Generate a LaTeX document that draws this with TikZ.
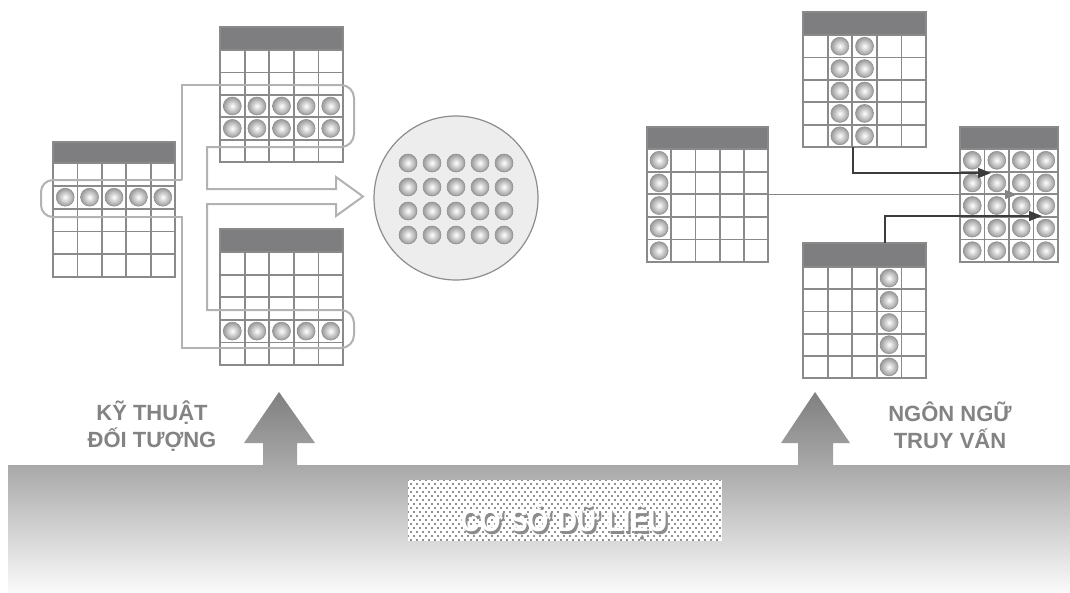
\documentclass[tikz,border=0pt]{standalone}
\usepackage{fontspec}
\setmainfont{Liberation Sans}
\usetikzlibrary{arrows.meta,patterns}
\pgfdeclarepatternformonly{qdots}{\pgfqpoint{-1pt}{-1pt}}{\pgfqpoint{7pt}{9pt}}{\pgfqpoint{6pt}{8pt}}{%
  \pgfpathcircle{\pgfqpoint{0pt}{0pt}}{0.85pt}%
  \pgfpathcircle{\pgfqpoint{3pt}{4pt}}{0.85pt}%
  \pgfusepath{fill}}
\definecolor{gridc}{HTML}{8A8A8A}
\definecolor{hdrc}{HTML}{7E7E80}
\definecolor{loopc}{HTML}{B2B2B2}
\definecolor{darkc}{HTML}{3C3C3C}
\definecolor{midc}{HTML}{858585}
\definecolor{labc}{HTML}{838383}
\tikzset{
  gridln/.style={draw=gridc, line width=1.8pt},
  hdrfill/.style={fill=hdrc},
  tabnode/.style={inner sep=0pt, outer sep=0pt, anchor=north west},
  ballst/.style={inner color=white, outer color=black!40, draw=black!45, line width=0.5pt},
  loopln/.style={draw=loopc, line width=2pt},
  darkarr/.style={draw=darkc, line width=1.6pt, -{Triangle[length=13pt,width=10pt]}},
  midarr/.style={draw=midc, line width=1.3pt, -{Triangle[length=12pt,width=9pt]}},
  labtxt/.style={font=\bfseries\fontsize{22}{27}\selectfont, align=center, text=labc},
}
\newcommand\dbshadow[1]{\rlap{\kern2.5pt\raisebox{-2.5pt}{\textcolor{black!45}{#1}}}\textcolor{white}{#1}}
% #1 name, #2 x, #3 y, #4 ncols, #5 nrows, #6 col width, #7 row height, #8 header height
\newcommand\dbtab[8]{%
  \node[tabnode, minimum width={#4*#6*1pt}, minimum height={(#8+#5*#7)*1pt}] (#1) at (#2,#3) {};
  \fill[hdrfill] (#2,#3) rectangle ++({#4*#6},{#8});
  \foreach \i in {0,...,#4} {\draw[gridln] ({#2+\i*#6},{#3+#8}) -- ++(0,{#5*#7});}
  \foreach \j in {0,...,#5} {\draw[gridln] (#2,{#3+#8+\j*#7}) -- ++({#4*#6},0);}
  \draw[gridln] (#2,#3) rectangle ++({#4*#6},{#8+#5*#7});
}
\newcommand\dbball[2]{\shade[ballst] (#1,#2) circle (9pt);}
\begin{document}
\begin{tikzpicture}[x=1pt,y=-1pt]
\useasboundingbox (0,0) rectangle (1070,592);
\fill[white] (0,0) rectangle (1070,592);

% ground
\shade[top color=black!34, middle color=black!16, bottom color=black!2] (8,465) rectangle (1070,592);
% up arrows
\shade[top color=black!50, bottom color=black!34]
  (279,392) -- (315,443) -- (297,443) -- (297,466) -- (263,466) -- (263,443) -- (244,443) -- cycle;
\shade[top color=black!50, bottom color=black!34]
  (815,392) -- (850,443) -- (833,443) -- (833,466) -- (798,466) -- (798,443) -- (781,443) -- cycle;

% dotted box
\fill[white] (408,480) rectangle (722,541);
\fill[pattern=qdots, pattern color=black!85] (408,480) rectangle (722,541);
\node[font=\bfseries\fontsize{31}{31}\selectfont, xscale=0.86] (db) at (564,522) {\dbshadow{CƠ SỞ DỮ LIỆU}};

% labels
\node[labtxt] (l1) at (152,426) {KỸ THUẬT\\ĐỐI TƯỢNG};
\node[labtxt] (l2) at (950,425) {NGÔN NGỮ\\TRUY VẤN};

% ===== left group =====
\dbtab{A}{53}{142}{5}{5}{24.4}{22.8}{21}
\dbtab{B}{220}{27}{5}{5}{24.6}{22.4}{23}
\dbtab{C}{220}{229}{5}{5}{24.6}{22.6}{23}

% loop / hollow arrow outline
\draw[loopln] (182,180) -- (182,85) -- (300,85);
\draw[loopln, rounded corners=13pt] (300,85) -- (354,85) -- (354,147) -- (300,147);
\draw[loopln] (300,147) -- (207,147) -- (207,189) -- (336,189) -- (336,177) -- (363,196.5) -- (336,216) -- (336,204) -- (207,204) -- (207,310) -- (300,310);
\draw[loopln, rounded corners=13pt] (300,310) -- (354,310) -- (354,348) -- (300,348);
\draw[loopln] (300,348) -- (182,348) -- (182,217) -- (100,217);
\draw[loopln, rounded corners=12pt] (100,217) -- (41,217) -- (41,180) -- (100,180);
\draw[loopln] (100,180) -- (182,180);

% balls in left group tables
\foreach \i in {0,...,4} {\dbball{65.2+24.4*\i}{197.2}}
\foreach \i in {0,...,4} {\dbball{232.3+24.6*\i}{106}\dbball{232.3+24.6*\i}{128.4}}
\foreach \i in {0,...,4} {\dbball{232.3+24.6*\i}{331.1}}

% circle with balls
\node[circle, draw=black!45, fill=black!7, line width=1.2pt, minimum size=164pt, inner sep=0pt] (set) at (456,198) {};
\foreach \i in {0,...,4} {\foreach \j in {0,...,3} {\dbball{408+24*\i}{163+24*\j}}}

% ===== right group =====
\dbtab{LT}{647}{127}{5}{5}{24.2}{22.6}{22}
\dbtab{TT}{803}{12}{5}{5}{24.6}{22.4}{23}
\dbtab{RT}{960}{127}{4}{5}{24.5}{22.6}{22}
\dbtab{BT}{803}{243}{5}{5}{24.6}{22.2}{24}

\foreach \j in {0,...,4} {\dbball{659.1}{160.3+22.6*\j}}
\foreach \j in {0,...,4} {\dbball{839.9}{46.2+22.4*\j}\dbball{864.5}{46.2+22.4*\j}}
\foreach \i in {0,...,3} {\foreach \j in {0,...,4} {\dbball{972.25+24.5*\i}{160.3+22.6*\j}}}
\foreach \j in {0,...,4} {\dbball{889.1}{278.1+22.2*\j}}

% connectors
\draw[darkarr] ([xshift=50pt]TT.south west) |- ([xshift=31pt,yshift=-46pt]RT.north west);
\draw[midarr] (LT.east) -- ([xshift=57pt]RT.west);
\draw[darkarr] ([xshift=82pt]BT.north west) |- ([xshift=82pt,yshift=-89pt]RT.north west);
\end{tikzpicture}
\end{document}
